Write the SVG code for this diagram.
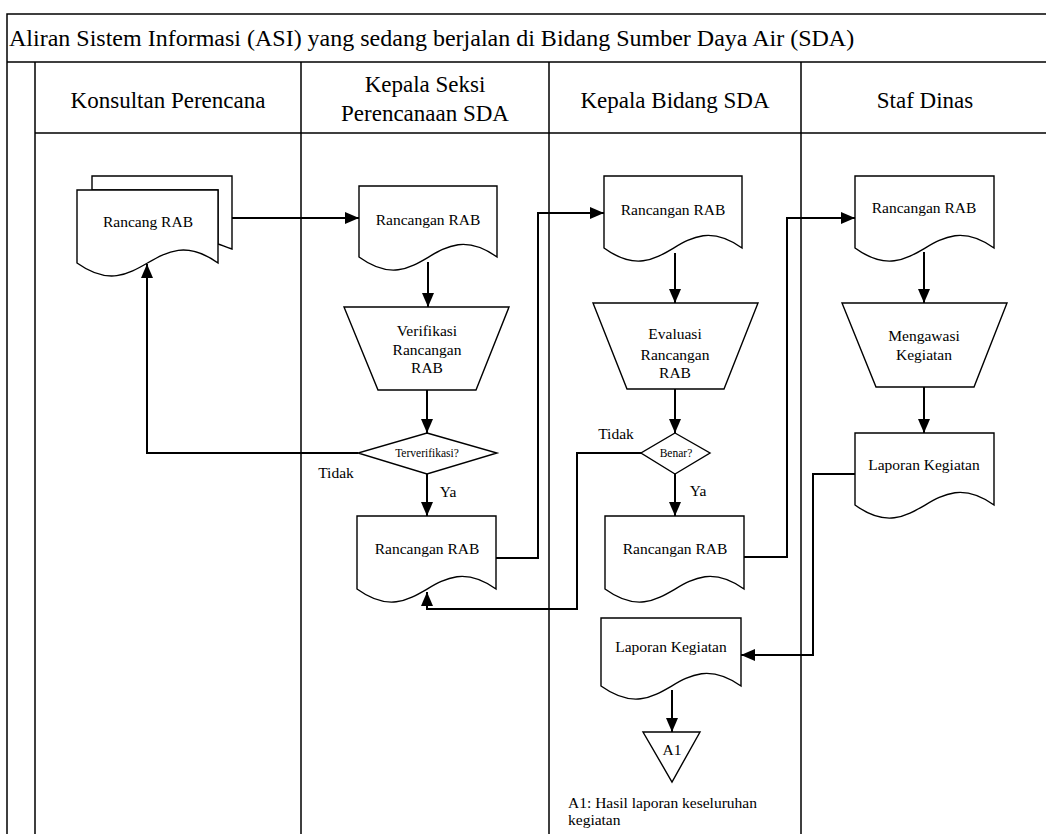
<svg xmlns="http://www.w3.org/2000/svg" width="1046" height="834" viewBox="0 0 1046 834">
<defs>
<marker id="arr" markerUnits="userSpaceOnUse" markerWidth="14" markerHeight="12" refX="14" refY="6" orient="auto"><path d="M0,0 L14,6 L0,12 z" fill="#000"/></marker>
<style>
.frame{fill:none;stroke:#000;stroke-width:1.5}
.shape{fill:#fff;stroke:#000;stroke-width:1.4}
.con{fill:none;stroke:#000;stroke-width:2;marker-end:url(#arr)}
.t{font-family:"Liberation Serif","Times New Roman",serif;fill:#000;text-anchor:middle}
.ti{font-size:24px}
.h{font-size:23px}
.n{font-size:15.5px}
.s{font-size:11.5px}
</style>
</defs>
<rect width="1046" height="834" fill="#fff"/>
<g id="frame">
<path class="frame" d="M1046,14 H7 V834 M7,62 H1046 M35,62 V834 M35,133 H1046 M301,62 V834 M549,62 V834 M801,62 V834"/>
<text class="t ti" x="9" y="46" style="text-anchor:start">Aliran Sistem Informasi (ASI) yang sedang berjalan di Bidang Sumber Daya Air (SDA)</text>
<text class="t h" x="168" y="108">Konsultan Perencana</text>
<text class="t h" x="425" y="92">Kepala Seksi</text>
<text class="t h" x="425" y="121">Perencanaan SDA</text>
<text class="t h" x="675" y="108">Kepala Bidang SDA</text>
<text class="t h" x="925" y="108">Staf Dinas</text>
</g>
<g id="connectors">
<path class="con" d="M232,218 H359"/>
<path class="con" d="M428,262 V307"/>
<path class="con" d="M427,390 V433"/>
<path class="con" d="M358,453 H147 V264"/>
<path class="con" d="M427,474 V516"/>
<path class="con" d="M496,558 H538 V213 H604"/>
<path class="con" d="M675,253 V303"/>
<path class="con" d="M675,389 V433"/>
<path class="con" d="M641,453 H577 V609 H427 V592"/>
<path class="con" d="M675,474 V516"/>
<path class="con" d="M744,557 H787 V218 H855"/>
<path class="con" d="M924,252 V303"/>
<path class="con" d="M924,387 V433"/>
<path class="con" d="M855,474 H813 V655 H741"/>
<path class="con" d="M672,690 V732"/>
<text class="t n" x="336" y="478">Tidak</text>
<text class="t n" x="448" y="497">Ya</text>
<text class="t n" x="616" y="439">Tidak</text>
<text class="t n" x="698" y="496">Ya</text>
</g>
<g id="rancang-rab">
<path class="shape" d="M92,176 H232 V249 C225,247 222,245 218,244 V190 H92 Z"/>
<path class="shape" d="M77,190 H218 V263 C155,218 140,308 77,263 Z"/>
<text class="t n" x="148" y="227">Rancang RAB</text>
</g>
<g id="doc-seksi-1">
<path class="shape" d="M359,186 H497 V257 C435,213 421,302 359,257 Z"/>
<text class="t n" x="428" y="225">Rancangan RAB</text>
</g>
<g id="verifikasi">
<path class="shape" d="M344,307 H509 L476,390 H378 Z"/>
<text class="t n" x="427" y="336">Verifikasi</text>
<text class="t n" x="427" y="355">Rancangan</text>
<text class="t n" x="427" y="373">RAB</text>
</g>
<g id="terverifikasi">
<path class="shape" d="M427,433 L497,453 L427,474 L358,453 Z"/>
<text class="t s" x="427" y="457">Terverifikasi?</text>
</g>
<g id="doc-seksi-2">
<path class="shape" d="M357,516 H496 V589 C434,545 419,634 357,589 Z"/>
<text class="t n" x="427" y="554">Rancangan RAB</text>
</g>
<g id="doc-bidang-1">
<path class="shape" d="M604,176 H742 V248 C680,204 666,293 604,248 Z"/>
<text class="t n" x="673" y="215">Rancangan RAB</text>
</g>
<g id="evaluasi">
<path class="shape" d="M593,303 H758 L724,389 H627 Z"/>
<text class="t n" x="675" y="339">Evaluasi</text>
<text class="t n" x="675" y="360">Rancangan</text>
<text class="t n" x="675" y="378">RAB</text>
</g>
<g id="benar">
<path class="shape" d="M675,433 L710,453 L675,474 L641,453 Z"/>
<text class="t s" x="676" y="457">Benar?</text>
</g>
<g id="doc-bidang-2">
<path class="shape" d="M605,516 H744 V589 C682,545 667,634 605,589 Z"/>
<text class="t n" x="675" y="554">Rancangan RAB</text>
</g>
<g id="laporan-bidang">
<path class="shape" d="M601,618 H741 V686 C678,642 664,731 601,686 Z"/>
<text class="t n" x="671" y="652">Laporan Kegiatan</text>
</g>
<g id="a1">
<path class="shape" d="M643,732 H700 L672,782 Z"/>
<text class="t n" x="672" y="755">A1</text>
<text class="t n" x="568" y="808" style="text-anchor:start">A1: Hasil laporan keseluruhan</text>
<text class="t n" x="568" y="825" style="text-anchor:start">kegiatan</text>
</g>
<g id="doc-staf">
<path class="shape" d="M855,176 H994 V248 C932,204 917,293 855,248 Z"/>
<text class="t n" x="924" y="213">Rancangan RAB</text>
</g>
<g id="mengawasi">
<path class="shape" d="M842,303 H1007 L974,387 H876 Z"/>
<text class="t n" x="924" y="341">Mengawasi</text>
<text class="t n" x="924" y="360">Kegiatan</text>
</g>
<g id="laporan-staf">
<path class="shape" d="M855,433 H994 V505 C932,461 917,550 855,505 Z"/>
<text class="t n" x="924" y="470">Laporan Kegiatan</text>
</g>
</svg>
